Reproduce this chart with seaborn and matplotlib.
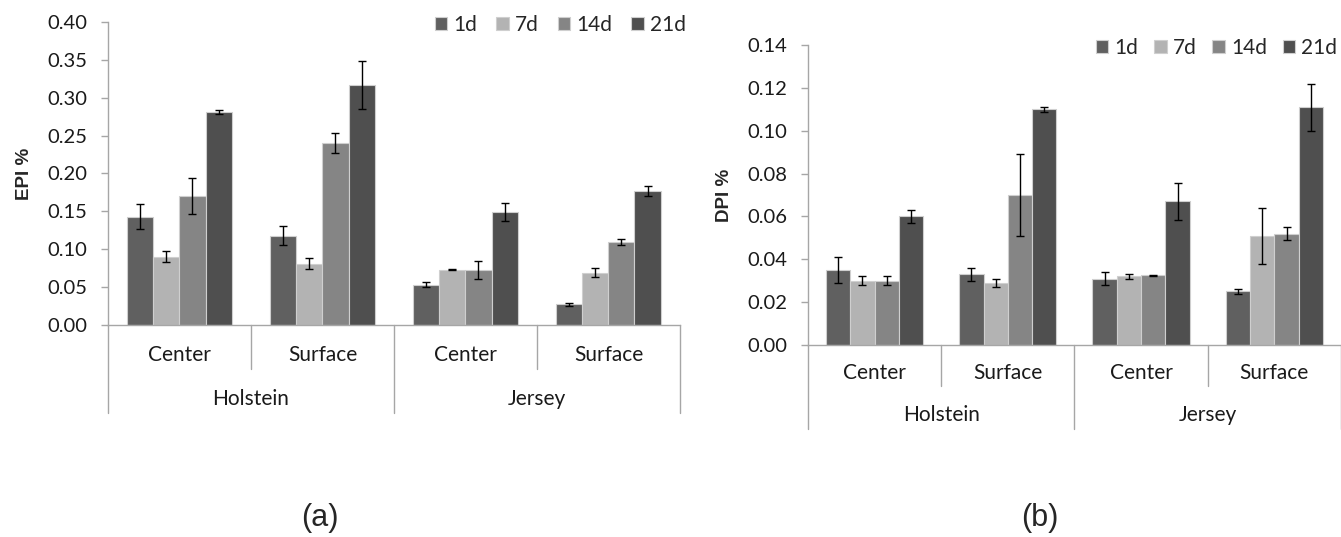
import numpy as np
import pandas as pd
import matplotlib
matplotlib.use("Agg")
import matplotlib.pyplot as plt
import matplotlib.transforms as mtransforms
import seaborn as sns

# ---- data ----
breeds = ["Holstein", "Jersey"]
locations = ["Center", "Surface"]
days = ["1d", "7d", "14d", "21d"]
day_colors = ["#606060", "#b3b3b3", "#858585", "#4f4f4f"]

# rows = Holstein Center, Holstein Surface, Jersey Center, Jersey Surface; cols = days
epi_mean = [[0.143, 0.090, 0.170, 0.281],
            [0.118, 0.081, 0.240, 0.317],
            [0.053, 0.073, 0.073, 0.149],
            [0.027, 0.069, 0.110, 0.177]]
epi_err = [[0.016, 0.007, 0.024, 0.003],
           [0.013, 0.007, 0.013, 0.032],
           [0.003, 0.001, 0.012, 0.012],
           [0.002, 0.006, 0.004, 0.007]]

dpi_mean = [[0.035, 0.030, 0.030, 0.060],
            [0.033, 0.029, 0.070, 0.110],
            [0.031, 0.032, 0.0325, 0.067],
            [0.025, 0.051, 0.052, 0.111]]
dpi_err = [[0.006, 0.002, 0.002, 0.003],
           [0.003, 0.002, 0.019, 0.001],
           [0.003, 0.001, 0.0002, 0.0085],
           [0.001, 0.013, 0.003, 0.011]]

epi_ticks = [0.00, 0.05, 0.10, 0.15, 0.20, 0.25, 0.30, 0.35, 0.40]
dpi_ticks = [0.00, 0.02, 0.04, 0.06, 0.08, 0.10, 0.12, 0.14]

groups = [f"{b} {l}" for b in breeds for l in locations]


def to_frame(mean, err):
    rows = []
    for gi, g in enumerate(groups):
        for di, d in enumerate(days):
            rows.append({"group": g, "day": d, "value": mean[gi][di], "err": err[gi][di]})
    return pd.DataFrame(rows)


sns.set_style("white")
plt.rcParams["font.family"] = ["Lato", "DejaVu Sans"]

fig = plt.figure(figsize=(13.41, 5.37), dpi=100)
ax1 = fig.add_axes([0.0805, 0.395, 0.4265, 0.564])
ax2 = fig.add_axes([0.6025, 0.3575, 0.3975, 0.5585])


def draw_panel(ax, mean, err, ticks, ylabel, short_len, long_len, loc_y, breed_y,
               leg_x, leg_y, col_space):
    df = to_frame(mean, err)
    sns.barplot(data=df, x="group", y="value", hue="day", order=groups, hue_order=days,
                palette=day_colors, errorbar=None, width=0.73, saturation=1,
                edgecolor="#cfcfcf", linewidth=0.8, ax=ax)

    # error bars on each bar
    bar_conts = list(ax.containers)
    for di, cont in enumerate(bar_conts):
        for gi, bar in enumerate(cont):
            ax.errorbar(bar.get_x() + bar.get_width() / 2, bar.get_height(),
                        yerr=err[gi][di], color="black", lw=1.0, capsize=3,
                        capthick=1.0, zorder=5)

    ax.set_xlim(-0.5, len(groups) - 0.5)
    ax.set_ylim(ticks[0], ticks[-1])
    ax.set_yticks(ticks)
    ax.set_yticklabels([f"{t:.2f}" for t in ticks], fontsize=14.5, color="#1a1a1a")
    ax.set_xticks([])
    ax.set_xlabel("")
    ax.set_ylabel(ylabel, fontsize=13.5, fontweight="bold", family="Liberation Sans", labelpad=10)

    for s in ["top", "right"]:
        ax.spines[s].set_visible(False)
    for s in ["left", "bottom"]:
        ax.spines[s].set_color("#a6a6a6")
        ax.spines[s].set_linewidth(1.0)
    ax.tick_params(axis="y", length=5, color="#a6a6a6", width=1.0, direction="out",
                   left=True, pad=10)

    # two-level category axis
    trans = mtransforms.blended_transform_factory(ax.transData, ax.transAxes)
    for k in range(len(groups) + 1):
        x = k - 0.5
        length = long_len if k % 2 == 0 else short_len
        ax.plot([x, x], [0, -length], transform=trans, color="#a6a6a6", lw=1.0, clip_on=False)
    for gi, g in enumerate(groups):
        ax.text(gi, loc_y, locations[gi % 2], transform=trans, ha="center", va="center",
                fontsize=15, color="#1a1a1a")
    for bi, b in enumerate(breeds):
        ax.text(2 * bi + 0.5, breed_y, b, transform=trans, ha="center", va="center",
                fontsize=15, color="#1a1a1a")

    ax.legend(loc="center right", bbox_to_anchor=(leg_x, leg_y), ncol=4, frameon=False,
              fontsize=15, handlelength=0.6, handleheight=0.6, handletextpad=0.3,
              columnspacing=col_space, borderaxespad=0)


draw_panel(ax1, epi_mean, epi_err, epi_ticks, "EPI %", 0.145, 0.29, -0.10, -0.245,
           1.025, 0.99, 0.9)
draw_panel(ax2, dpi_mean, dpi_err, dpi_ticks, "DPI %", 0.137, 0.28, -0.093, -0.233,
           1.009, 0.99, 0.75)

fig.text(320 / 1341, 1 - 518 / 537, "(a)", ha="center", va="center", fontsize=22,
         family="Liberation Sans")
fig.text(1040 / 1341, 1 - 518 / 537, "(b)", ha="center", va="center", fontsize=22,
         family="Liberation Sans")

fig.savefig("out.png", dpi=100, facecolor="white")
